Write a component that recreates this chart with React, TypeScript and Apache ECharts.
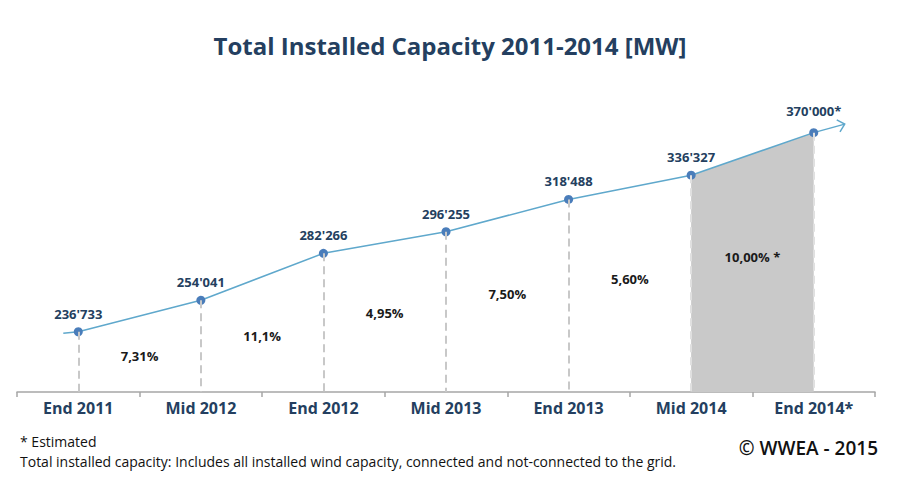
import React, { useEffect, useRef } from "react";
import * as echarts from "echarts";

// ---- data ----
const categories = ["End 2011", "Mid 2012", "End 2012", "Mid 2013", "End 2013", "Mid 2014", "End 2014*"];
const capacity = [236733, 254041, 282266, 296255, 318488, 336327, 370000];
const capacityLabels = ["236'733", "254'041", "282'266", "296'255", "318'488", "336'327", "370'000*"];
const growthLabels = ["7,31%", "11,1%", "4,95%", "7,50%", "5,60%", "10,00% *"];
const shadedFrom = 5; // Mid 2014 -> End 2014* (estimate)

// ---- layout / style ----
const Y_MIN = 206800;
const Y_MAX = 398100;
const GROWTH_OFFSET = [36, 56, 79, 98, 113, 135]; // px above the axis line
const NAVY = "#243f60";
const LINE = "#5fa8cc";
const DOT = "#4a7dba";
const FONT = "Open Sans";

export default function App() {
  const ref = useRef<HTMLDivElement>(null);

  useEffect(() => {
    if (!ref.current) return;
    const chart = echarts.init(ref.current, null, { renderer: "svg" });
    chart.setOption({
      animation: false,
      backgroundColor: "#ffffff",
      title: {
        text: "Total Installed Capacity 2011-2014 [MW]",
        left: "center",
        top: 28,
        textStyle: { color: NAVY, fontSize: 24, fontWeight: "bold", fontFamily: FONT },
      },
      grid: { left: 17, right: 25, top: 100, bottom: 108 },
      xAxis: [
        {
          type: "category",
          data: categories,
          boundaryGap: true,
          axisLine: { lineStyle: { color: "#a6a6a6", width: 1.5 } },
          axisTick: { show: true, length: 5, lineStyle: { color: "#a6a6a6", width: 1.5 } },
          axisLabel: { color: NAVY, fontSize: 16, fontWeight: "bold", fontFamily: FONT, margin: 8 },
          splitLine: { show: false },
        },
        { type: "value", min: -0.5, max: categories.length - 0.5, show: false },
      ],
      yAxis: { type: "log", min: Y_MIN, max: Y_MAX, show: false },
      series: [
        {
          type: "line",
          xAxisIndex: 1,
          data: capacity.slice(shadedFrom).map((v, i) => [i + shadedFrom, v]),
          symbol: "none",
          lineStyle: { width: 0 },
          areaStyle: { color: "#c9c9c9", opacity: 1, origin: "start" },
          silent: true,
          z: 1,
        },
        {
          type: "line",
          xAxisIndex: 1,
          data: [],
          silent: true,
          z: 2,
          markLine: {
            silent: true,
            symbol: ["none", "none"],
            label: { show: false },
            lineStyle: { type: [8, 5], color: "#c8c8c8", width: 2 },
            data: capacity.map((v, i) => [
              { coord: [i, v], lineStyle: i >= shadedFrom ? { color: "#e0e0e0" } : undefined },
              { coord: [i, Y_MIN] },
            ]),
          },
        },
        {
          type: "line",
          xAxisIndex: 1,
          data: capacity.map((v, i) => ({
            value: [i, v],
            label: i === capacity.length - 1 ? { distance: 11 } : undefined,
          })),
          symbol: "circle",
          symbolSize: 9,
          itemStyle: { color: DOT },
          lineStyle: { color: LINE, width: 1.5 },
          label: {
            show: true,
            position: "top",
            distance: 7,
            formatter: (p: any) => capacityLabels[p.dataIndex],
            color: NAVY,
            fontSize: 13,
            fontWeight: "bold",
            fontFamily: FONT,
          },
          z: 3,
        },
      ],
    });

    const px = (x: number, y: number) => chart.convertToPixel({ seriesIndex: 2 }, [x, y]) as number[];
    const last = capacity.length - 1;
    const p0 = px(0, capacity[0]);
    const pn = px(last, capacity[last]);
    const tip = [pn[0] + 31, pn[1] - 8.5];
    const len = Math.hypot(31, 8.5);
    const ux = 31 / len, uy = -8.5 / len;
    const arm = (ang: number) => {
      const c = Math.cos(ang), s = Math.sin(ang);
      const dx = -(ux * c - uy * s) * 9;
      const dy = -(ux * s + uy * c) * 9;
      return [tip[0] + dx, tip[1] + dy];
    };

    const graphics: any[] = [
      {
        type: "line",
        shape: { x1: p0[0] - 15, y1: p0[1] + 1.6, x2: p0[0], y2: p0[1] },
        style: { stroke: LINE, lineWidth: 1.5 },
        z: 2,
      },
      {
        type: "line",
        shape: { x1: pn[0], y1: pn[1], x2: tip[0], y2: tip[1] },
        style: { stroke: LINE, lineWidth: 1.5 },
        z: 2,
      },
      {
        type: "polyline",
        shape: { points: [arm(0.75), tip, arm(-0.75)] },
        style: { stroke: LINE, lineWidth: 1.5, fill: "none" },
        z: 2,
      },
    ];
    growthLabels.forEach((t, i) => {
      const b = px(i + 0.5, Y_MIN);
      graphics.push({
        type: "text",
        x: b[0],
        y: b[1] - GROWTH_OFFSET[i],
        style: {
          text: t,
          fill: "#1a1a1a",
          font: `bold 13px "${FONT}"`,
          align: "center",
          verticalAlign: "middle",
        },
        z: 5,
      });
    });
    graphics.push(
      {
        type: "text",
        x: 20,
        y: 441,
        style: { text: "* Estimated", fill: "#111", font: `14px "${FONT}"`, verticalAlign: "middle" },
      },
      {
        type: "text",
        x: 20,
        y: 461,
        style: {
          text: "Total installed capacity: Includes all installed wind capacity, connected and not-connected to the grid.",
          fill: "#111",
          font: `14px "${FONT}"`,
          verticalAlign: "middle",
        },
      },
      {
        type: "text",
        x: 878,
        y: 448,
        style: { text: "© WWEA - 2015", fill: "#111", font: `600 19px "${FONT}"`, align: "right", verticalAlign: "middle" },
      }
    );
    chart.setOption({ graphic: graphics });

    return () => chart.dispose();
  }, []);

  return <div ref={ref} style={{ position: "fixed", left: 0, top: 0, width: 900, height: 500 }} />;
}
